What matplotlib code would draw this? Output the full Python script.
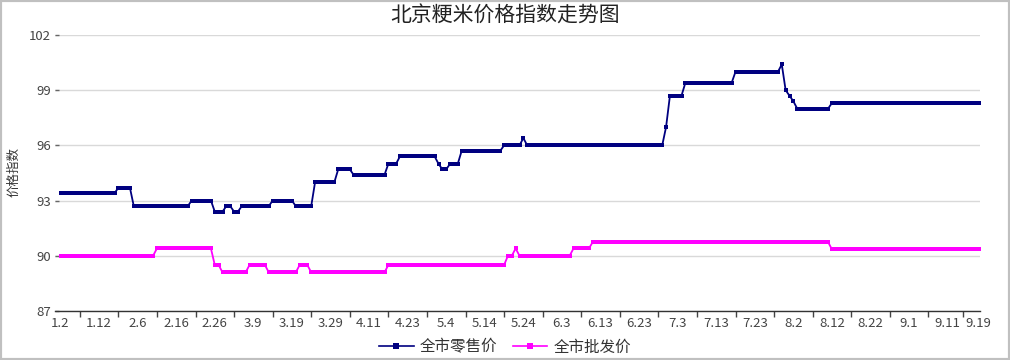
import numpy as np
import matplotlib
matplotlib.use("Agg")
import matplotlib.pyplot as plt
from matplotlib.lines import Line2D
from matplotlib.patches import Rectangle

plt.rcParams['font.family'] = ['Noto Sans CJK SC', 'DejaVu Sans']

title = "北京粳米价格指数走势图"
ylabel = "价格指数"
series_names = ["全市零售价", "全市批发价"]

tick_labels = ['1.2', '1.12', '2.6', '2.16', '2.26', '3.9', '3.19', '3.29', '4.11',
               '4.23', '5.4', '5.14', '5.24', '6.3', '6.13', '6.23', '7.3', '7.13',
               '7.23', '8.2', '8.12', '8.22', '9.1', '9.11', '9.19']

# retail index: level values and number of consecutive days at each level
retail_levels = [93.4, 93.7, 92.7, 93.0, 92.4, 92.7, 92.4, 92.7, 93.0, 92.7, 94.0, 94.7,
                 94.4, 95.0, 95.4, 95.0, 94.7, 95.0, 95.7, 96.0, 96.4, 96.0, 97.0, 98.7,
                 99.4, 100.0, 100.4, 99.0, 98.7, 98.4, 98.0, 98.3]
retail_runs = [15, 4, 15, 6, 3, 2, 2, 8, 6, 5, 6, 4,
               9, 3, 10, 1, 2, 3, 11, 5, 1, 36, 1, 4,
               13, 12, 1, 1, 1, 1, 9, 39]

# wholesale index
wholesale_levels = [90.0, 90.4, 89.5, 89.1, 89.5, 89.1, 89.5, 89.1, 89.5, 90.0, 90.4,
                    90.0, 90.4, 90.75, 90.35]
wholesale_runs = [25, 15, 2, 7, 5, 8, 3, 20, 31, 2, 1, 14, 5, 62, 39]

retail = np.repeat(retail_levels, retail_runs)
wholesale = np.repeat(wholesale_levels, wholesale_runs)
n = len(retail)
x = np.arange(n)

W, H = 1010, 360
fig = plt.figure(figsize=(W / 100, H / 100), dpi=100)
ax_left, ax_right, ax_bottom, ax_top = 55, 980, 311, 35
ax = fig.add_axes([ax_left / W, 1 - ax_bottom / H, (ax_right - ax_left) / W, (ax_bottom - ax_top) / H])

navy = '#000080'
magenta = '#FF00FF'
ax.plot(x, retail, color=navy, lw=1.3, marker='s', ms=3.0, mew=0, zorder=3)
ax.plot(x, wholesale, color=magenta, lw=1.3, marker='s', ms=3.0, mew=0, zorder=3)

# x: scale so that first point sits a bit inside the axis line
px_per = (978.5 - 60.5) / (n - 1)
ax.set_xlim(-(60.5 - ax_left) / px_per, (n - 1) + (ax_right - 978.5) / px_per)
ax.set_ylim(87, 102)

yt = [87, 90, 93, 96, 99, 102]
ax.set_yticks(yt)
ax.set_yticklabels([str(v) for v in yt])
ax.grid(axis='y', color='#d9d9d9', lw=1)
ax.set_axisbelow(True)

label_pos = list(range(0, n - 1, 10)) + [n - 1]
ax.set_xticks(label_pos)
ax.set_xticklabels(tick_labels)
mid = [(a + b) / 2 for a, b in zip(label_pos[:-1], label_pos[1:])]
ax.set_xticks(mid, minor=True)
ax.tick_params(axis='x', which='major', length=0, pad=4, labelsize=9.5, labelcolor='#444444')
ax.tick_params(axis='x', which='minor', length=4, width=1, color='#444444', direction='out')
ax.tick_params(axis='y', length=3, width=1, color='#666666', direction='in', pad=3,
               labelsize=9.5, labelcolor='#444444')

for s in ['top', 'right', 'left']:
    ax.spines[s].set_visible(False)
ax.spines['bottom'].set_color('#333333')
ax.spines['bottom'].set_linewidth(1)

fig.text(0.5, 1 - 16 / H, title, ha='center', va='center', fontsize=15, color='#222222')
fig.text(14 / W, 1 - 172 / H, ylabel, ha='center', va='center', rotation=90, fontsize=9, color='#333333')

handles = [Line2D([0], [0], color=navy, lw=1.2, marker='s', ms=4, mew=0),
           Line2D([0], [0], color=magenta, lw=1.2, marker='s', ms=4, mew=0)]
leg = fig.legend(handles, series_names, loc='center', bbox_to_anchor=(0.5, 1 - 347 / H),
                 ncol=2, frameon=False, fontsize=11.2, handlelength=2.2, handletextpad=0.4,
                 columnspacing=1.0, labelcolor='#333333')

fig.patches.append(Rectangle((0, 0), 1, 1, transform=fig.transFigure, fill=False,
                             edgecolor='#c0c0c0', lw=3))

fig.savefig('out.png', dpi=100)
